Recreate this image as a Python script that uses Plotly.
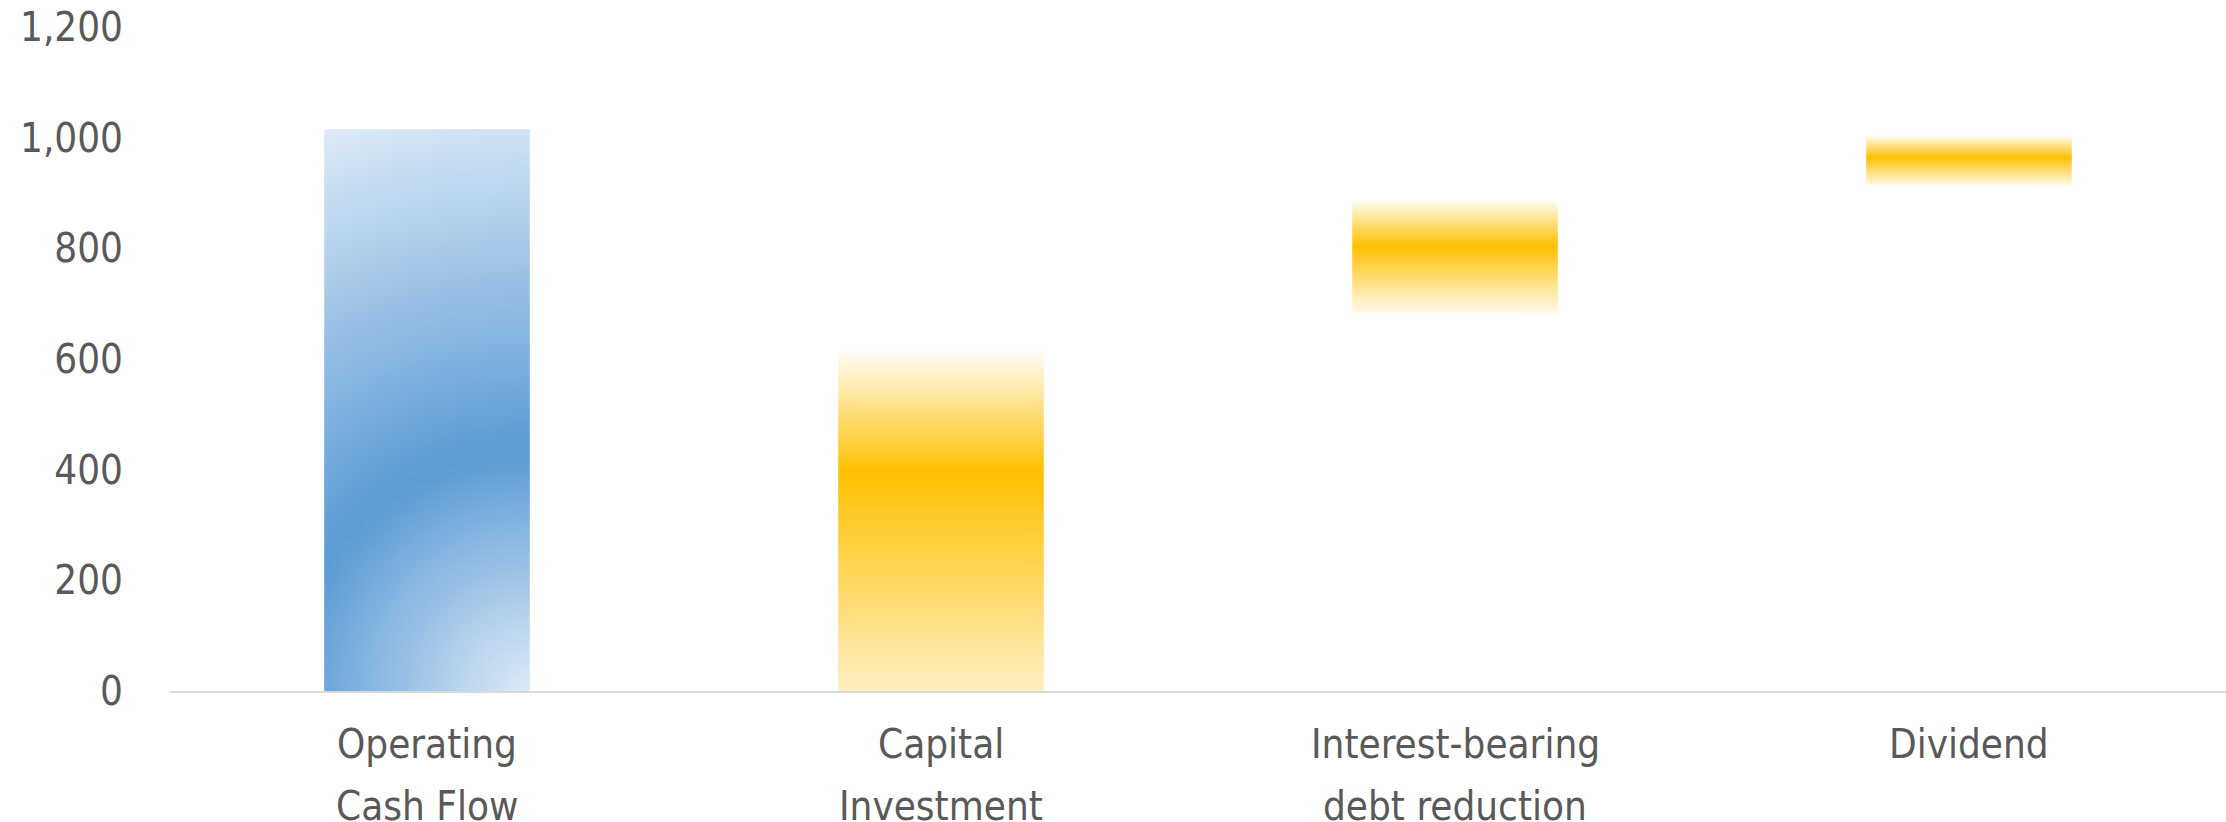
import math
import plotly.graph_objects as go

# ---------------- data ----------------
categories = ["Operating Cash Flow", "Capital Investment",
              "Interest-bearing debt reduction", "Dividend"]
label_line1 = ["Operating", "Capital", "Interest-bearing", "Dividend"]
label_line2 = ["Cash Flow", "Investment", "debt reduction", ""]
bar_base = [0, 0, 675, 910]
bar_top = [1015, 620, 890, 1005]
y_ticks = [0, 200, 400, 600, 800, 1000, 1200]

# ---------------- style ----------------
W, H = 2226, 822
ML, MR, MT, MB = 170, 0, 27, 131
Y_MAX = 1200
BAR_W = 0.4
FONT = "DejaVu Sans Condensed, DejaVu Sans"
FSIZE = 40
TXT = "#595959"
GOLD = "rgb(255,192,0)"
WHITE = "rgb(255,255,255)"
yellow_scales = {
    1: [[0, "rgb(255,239,194)"], [0.64, GOLD], [1, WHITE]],
    2: [[0, WHITE], [0.60, GOLD], [1, WHITE]],
    3: [[0, WHITE], [0.57, GOLD], [1, WHITE]],
}
BLUE_LIGHT = (222, 235, 247)
BLUE_DARK = (91, 155, 213)
BLUE_DARK_POS = 0.40

n_cat = len(categories)
px_per_x = (W - ML - MR) / n_cat
px_per_y = (H - MT - MB) / Y_MAX

fig = go.Figure()


def rect(x0, x1, y0, y1):
    return [x0, x1, x1, x0, x0], [y0, y0, y1, y1, y0]


def blue_at(t):
    # radial stops: light (0) -> dark (BLUE_DARK_POS) -> light (1)
    if t <= BLUE_DARK_POS:
        f = t / BLUE_DARK_POS
    else:
        f = (1 - t) / (1 - BLUE_DARK_POS)
    c = [round(BLUE_LIGHT[i] + (BLUE_DARK[i] - BLUE_LIGHT[i]) * f) for i in range(3)]
    return "rgb(%d,%d,%d)" % tuple(c)


for i, cat in enumerate(categories):
    x0, x1 = i - BAR_W / 2, i + BAR_W / 2
    b, t = bar_base[i], bar_top[i]
    if i == 0:
        # radial gradient from bottom-right corner, built from thin vertical strips
        n_strips = 60
        sw = (x1 - x0) / n_strips
        hpx = (t - b) * px_per_y
        R = math.hypot((x1 - x0) * px_per_x, hpx)
        M = 40
        for k in range(n_strips):
            xa = x0 + k * sw
            xb = min(xa + 1.7 * sw, x1)
            dx = (x1 - (xa + sw / 2)) * px_per_x
            scale = []
            for j in range(M + 1):
                p = j / M
                d = math.hypot(dx, p * hpx)
                scale.append([p, blue_at(min(d / R, 1))])
            xs, ys = rect(xa, xb, b, t)
            fig.add_trace(go.Scatter(
                x=xs, y=ys, mode="lines", fill="toself",
                line=dict(width=0, color="rgba(0,0,0,0)"),
                fillgradient=dict(type="vertical", colorscale=scale, start=b, stop=t),
                hoverinfo="skip", showlegend=False, name=cat))
    else:
        xs, ys = rect(x0, x1, b, t)
        fig.add_trace(go.Scatter(
            x=xs, y=ys, mode="lines", fill="toself",
            line=dict(width=0, color="rgba(0,0,0,0)"),
            fillgradient=dict(type="vertical", colorscale=yellow_scales[i], start=b, stop=t),
            hoverinfo="skip", showlegend=False, name=cat))

annotations = []
for i in range(n_cat):
    for j, txt in enumerate([label_line1[i], label_line2[i]]):
        if not txt:
            continue
        annotations.append(dict(
            x=i, xref="x", y=0, yref="paper", text=txt, showarrow=False,
            xanchor="center", yanchor="middle", yshift=-53 - 62 * j,
            font=dict(family=FONT, size=FSIZE, color=TXT)))

fig.update_layout(
    width=W, height=H,
    margin=dict(l=ML, r=MR, t=MT, b=MB),
    paper_bgcolor="white", plot_bgcolor="white",
    showlegend=False,
    annotations=annotations,
    xaxis=dict(range=[-0.5, n_cat - 0.5], showgrid=False, zeroline=False,
               showline=True, linecolor="#D9D9D9", linewidth=2,
               showticklabels=False, ticks="", fixedrange=True),
    yaxis=dict(range=[0, Y_MAX], tickvals=y_ticks, tickformat=",",
               showgrid=False, zeroline=False, showline=False, ticks="",
               ticklabelstandoff=46,
               tickfont=dict(family=FONT, size=FSIZE, color=TXT), fixedrange=True),
)

fig.write_html(
    "out.html",
    config={"displayModeBar": False},
    post_script="document.body.style.margin='0';document.body.style.overflow='hidden';",
)
